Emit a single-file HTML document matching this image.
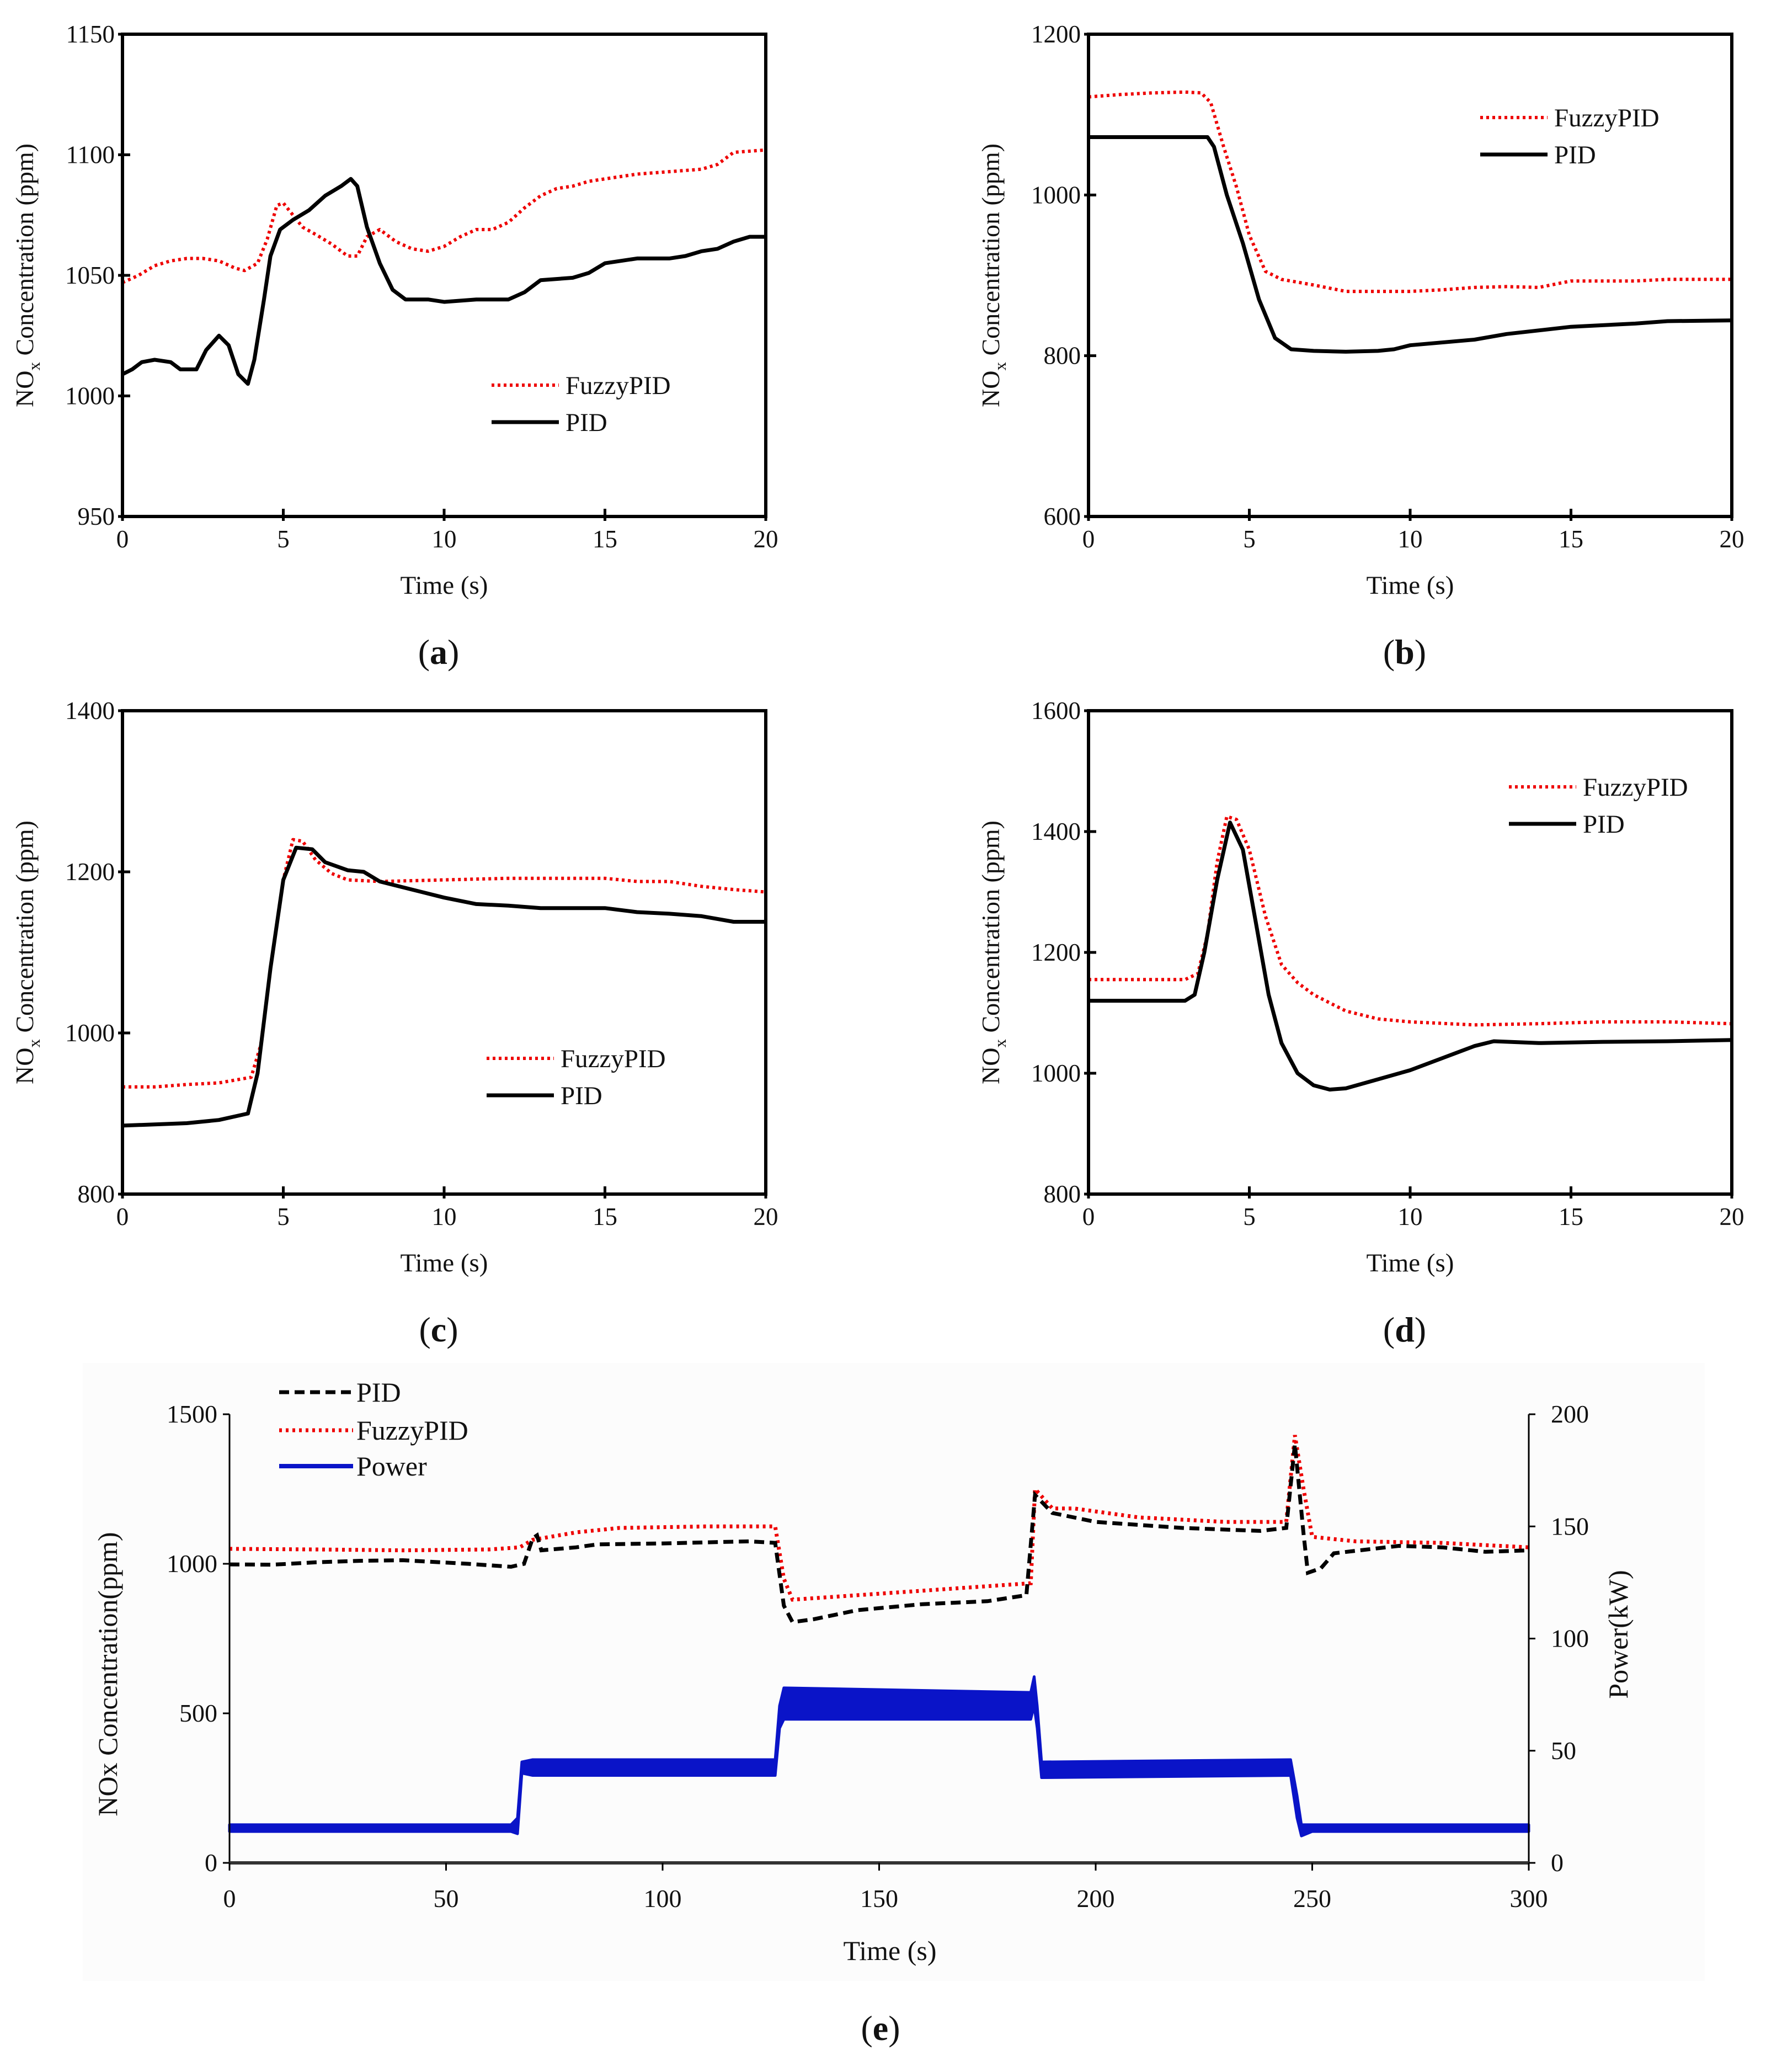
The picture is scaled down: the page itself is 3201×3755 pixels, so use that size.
<!DOCTYPE html>
<html><head><meta charset="utf-8"><style>
html,body{margin:0;padding:0;background:#fff}
svg{display:block}
text{font-family:"Liberation Serif",serif;fill:#111}
</style></head><body>
<svg id="fig" width="3201" height="3755" viewBox="0 0 3201 3755" xmlns="http://www.w3.org/2000/svg">
<rect x="150" y="2470" width="2940" height="1120" fill="#fcfcfc"/>
</svg>
<script>
// ---- Panel (a) data ----
const aTime=[0,0.5,1,1.5,2,2.5,3,3.5,3.8,4.2,4.5,4.8,5,5.3,5.6,6,6.5,7,7.3,7.6,8,8.5,9,9.5,10,10.5,11,11.5,12,12.5,13,13.5,14,14.5,15,16,17,18,18.5,19,20];
const aFuzzy=[1047,1050,1054,1056,1057,1057,1056,1053,1052,1055,1065,1079,1080,1075,1070,1067,1063,1058,1058,1066,1069,1064,1061,1060,1062,1066,1069,1069,1072,1078,1083,1086,1087,1089,1090,1092,1093,1094,1096,1101,1102];
const aPidTime=[0,0.3,0.6,1,1.5,1.8,2.3,2.6,3,3.3,3.6,3.9,4.1,4.4,4.6,4.9,5.3,5.8,6.3,6.8,7.1,7.3,7.6,8,8.4,8.8,9.5,10,11,12,12.5,13,14,14.5,15,16,17,17.5,18,18.5,19,19.5,20];
const aPid=[1009,1011,1014,1015,1014,1011,1011,1019,1025,1021,1009,1005,1015,1040,1058,1069,1073,1077,1083,1087,1090,1087,1070,1055,1044,1040,1040,1039,1040,1040,1043,1048,1049,1051,1055,1057,1057,1058,1060,1061,1064,1066,1066];
const aYTicks=[950,1000,1050,1100,1150];
// ---- Panel (b) data ----
const bFuzzyTime=[0,1,2,3,3.5,3.8,4.2,4.6,5,5.5,6,7,8,9,10,11,12,13,14,15,17,18,20];
const bFuzzy=[1122,1125,1127,1128,1127,1115,1060,1010,950,905,895,888,880,880,880,882,885,886,885,893,893,895,895];
const bPidTime=[0,3.7,3.9,4.3,4.8,5.3,5.8,6.3,7,8,9,9.5,10,12,13,15,17,18,20];
const bPid=[1072,1072,1060,1000,940,870,822,808,806,805,806,808,813,820,827,836,840,843,844];
const bYTicks=[600,800,1000,1200];
// ---- Panel (c) data ----
const cFuzzyTime=[0,1,2,3,4,4.3,4.6,5,5.3,5.6,6,6.5,7,8,10,12,15,16,17,18,19,20];
const cFuzzy=[933,933,936,938,945,985,1080,1190,1240,1238,1215,1198,1190,1188,1190,1192,1192,1188,1188,1182,1178,1175];
const cPidTime=[0,2,3,3.9,4.2,4.6,5,5.4,5.9,6.3,7,7.5,8,9,10,11,12,13,15,16,17,18,19,20];
const cPid=[885,888,892,900,950,1080,1190,1230,1228,1212,1202,1200,1188,1178,1168,1160,1158,1155,1155,1150,1148,1145,1138,1138];
const cYTicks=[800,1000,1200,1400];
// ---- Panel (d) data ----
const dFuzzyTime=[0,3,3.4,3.7,4,4.3,4.6,5,5.5,6,6.5,7,8,9,10,12,14,16,18,20];
const dFuzzy=[1155,1155,1165,1230,1350,1425,1420,1370,1260,1180,1150,1130,1103,1090,1085,1080,1082,1085,1085,1082];
const dPidTime=[0,3,3.3,3.6,4,4.4,4.8,5.2,5.6,6,6.5,7,7.5,8,9,10,11,12,12.6,14,16,18,20];
const dPid=[1120,1120,1130,1200,1320,1415,1370,1250,1130,1050,1000,980,973,975,990,1005,1025,1045,1053,1050,1052,1053,1055];
const dYTicks=[800,1000,1200,1400,1600];
const xTicks=[0,5,10,15,20];
// ---- Panel (e) data ----
const ePidTime=[0,10,20,30,40,55,60,65,68,70,71,72,80,85,100,120,126,128,130,135,145,160,175,184,186,190,200,220,238,244,246,248,249,252,255,270,280,290,300];
const ePid=[998,997,1005,1010,1012,1000,995,990,1000,1085,1095,1045,1055,1065,1068,1075,1070,860,805,815,845,865,875,895,1230,1170,1140,1120,1110,1120,1400,1100,970,985,1035,1060,1055,1040,1045];
const eFuzzyTime=[0,20,40,60,67,70,80,90,110,126,128,130,140,160,180,185,186,190,195,210,230,244,246,248,250,260,280,300];
const eFuzzy=[1050,1048,1045,1048,1055,1080,1105,1120,1125,1125,950,880,890,910,930,935,1250,1185,1185,1155,1140,1140,1430,1250,1090,1075,1070,1055];
const ePowerTime=[0,65,66.5,67.5,70,126,127,128,185,185.8,186.5,187.5,245,246.5,247.5,250,300];
const ePowerLow=[14,14,13,40,39,39,60,64,64,70,60,38,39,20,12,14,14];
const ePowerHigh=[17,17,20,45,46,46,70,78,76,83,70,45,46,30,17,17,17];
const eXTicks=[0,50,100,150,200,250,300];
const eYTicks=[0,500,1000,1500];
const ePowerTicks=[0,50,100,150,200];

const NS="http://www.w3.org/2000/svg";
const svg=document.getElementById('fig');
function mk(tag,attrs,parent){const e=document.createElementNS(NS,tag);for(const k in attrs)e.setAttribute(k,attrs[k]);(parent||svg).appendChild(e);return e;}
function txt(s,attrs,parent){const e=mk('text',attrs,parent);e.textContent=s;return e;}
function lin(d0,d1,r0,r1){return v=>r0+(v-d0)/(d1-d0)*(r1-r0);}
function pathOf(xs,ys,sx,sy){return xs.map((t,i)=>(i?'L':'M')+sx(t).toFixed(1)+','+sy(ys[i]).toFixed(1)).join('');}

function panel(id,x0,x1,y0,y1,yT,series,leg,label){
  const g=mk('g',{});
  
  
  const sx=lin(0,20,x0,x1), sy=lin(yT[0],yT[yT.length-1],y1,y0);
  series.forEach(s=>{
    const p=mk('path',{d:pathOf(s.t,s.v,sx,sy),fill:'none',stroke:s.c,'stroke-width':s.red?6:7,'stroke-dasharray':s.red?'5 6':'none','stroke-linejoin':'round'},g);
    
    
  });
  const fr=mk('rect',{x:x0,y:y0,width:x1-x0,height:y1-y0,fill:'none',stroke:'#000','stroke-width':6},g);
  
  
  yT.forEach(v=>{
    const y=sy(v);
    mk('line',{x1:x0-8,x2:x0+14,y1:y,y2:y,stroke:'#000','stroke-width':5},g);
    const t=txt(v,{x:x0-14,y:y+15,'font-size':45,'text-anchor':'end'},g);
    
    
  });
  xTicks.forEach(v=>{
    const x=sx(v);
    mk('line',{x1:x,x2:x,y1:y1+8,y2:y1-14,stroke:'#000','stroke-width':5},g);
    const t=txt(v,{x:x,y:y1+56,'font-size':45,'text-anchor':'middle'},g);
    
    
  });
  const xt=txt('Time (s)',{x:(x0+x1)/2,y:y1+140,'font-size':47,'text-anchor':'middle'},g);
  
  
  const cy=(y0+y1)/2, tx=x0-162;
  const yt=mk('text',{x:0,y:0,'font-size':46,'text-anchor':'middle',transform:`translate(${tx},${cy}) rotate(-90)`},g);
  yt.innerHTML='NO<tspan font-size="31" dy="12">x</tspan><tspan dy="-12"> Concentration (ppm)</tspan>';
  
  
  const lf=mk('line',{x1:leg[0],x2:leg[0]+122,y1:leg[1],y2:leg[1],stroke:'#e00','stroke-width':6,'stroke-dasharray':'5 6'},g);
  
  
  const lft=txt('FuzzyPID',{x:leg[0]+134,y:leg[1]+16,'font-size':47},g);
  
  
  const lp=mk('line',{x1:leg[0],x2:leg[0]+122,y1:leg[1]+67,y2:leg[1]+67,stroke:'#000','stroke-width':7},g);
  
  
  const lpt=txt('PID',{x:leg[0]+134,y:leg[1]+83,'font-size':47},g);
  
  
  const pl=mk('text',{x:(x0+x1)/2-10,y:y1+267,'font-size':64,'text-anchor':'middle'},g);
  pl.innerHTML='(<tspan font-weight="bold">'+label+'</tspan>)';
  
  
}
panel('a',222,1388,62,936,aYTicks,[{t:aTime,v:aFuzzy,c:'#e00',red:1,n:'fuzzypid'},{t:aPidTime,v:aPid,c:'#000',n:'pid'}],[891,698],'a');
panel('b',1973,3139,62,936,bYTicks,[{t:bFuzzyTime,v:bFuzzy,c:'#e00',red:1,n:'fuzzypid'},{t:bPidTime,v:bPid,c:'#000',n:'pid'}],[2683,213],'b');
panel('c',222,1388,1288,2164,cYTicks,[{t:cFuzzyTime,v:cFuzzy,c:'#e00',red:1,n:'fuzzypid'},{t:cPidTime,v:cPid,c:'#000',n:'pid'}],[882,1918],'c');
panel('d',1973,3139,1288,2164,dYTicks,[{t:dFuzzyTime,v:dFuzzy,c:'#e00',red:1,n:'fuzzypid'},{t:dPidTime,v:dPid,c:'#000',n:'pid'}],[2735,1426],'d');

(function(){
  const g=mk('g',{});
  
  
  const x0=416,x1=2771,y0=2563,y1=3376;
  const sx=lin(0,300,x0,x1), sy=lin(0,1500,y1,y0), sp=lin(0,200,y1,y0);
  const band='M'+ePowerTime.map((t,i)=>sx(t).toFixed(1)+','+sp(ePowerHigh[i]).toFixed(1)).join('L')+'L'+ePowerTime.slice().reverse().map((t,j)=>{const i=ePowerTime.length-1-j;return sx(t).toFixed(1)+','+sp(ePowerLow[i]).toFixed(1);}).join('L')+'Z';
  const pb=mk('path',{d:band,fill:'#0a14c8',stroke:'#0a14c8','stroke-width':5,'stroke-linejoin':'round'},g);
  
  
  const pf=mk('path',{d:pathOf(eFuzzyTime,eFuzzy,sx,sy),fill:'none',stroke:'#e00','stroke-width':7,'stroke-dasharray':'5 7'},g);
  
  
  const pp=mk('path',{d:pathOf(ePidTime,ePid,sx,sy),fill:'none',stroke:'#000','stroke-width':7,'stroke-dasharray':'18 10'},g);
  
  
  mk('line',{x1:x0,x2:x0,y1:y0,y2:y1,stroke:'#000','stroke-width':3},g);
  mk('line',{x1:x1,x2:x1,y1:y0,y2:y1,stroke:'#000','stroke-width':3},g);
  mk('line',{x1:x0,x2:x1,y1:y1,y2:y1,stroke:'#333','stroke-width':6},g);
  eYTicks.forEach(v=>{const y=sy(v);mk('line',{x1:x0-12,x2:x0,y1:y,y2:y,stroke:'#000','stroke-width':3},g);
    const t=txt(v,{x:x0-22,y:y+15,'font-size':46,'text-anchor':'end'},g);
    
    });
  ePowerTicks.forEach(v=>{const y=sp(v);mk('line',{x1:x1,x2:x1+12,y1:y,y2:y,stroke:'#000','stroke-width':3},g);
    const t=txt(v,{x:x1+40,y:y+15,'font-size':46},g);
    
    });
  eXTicks.forEach(v=>{const x=sx(v);mk('line',{x1:x,x2:x,y1:y1,y2:y1+14,stroke:'#000','stroke-width':3},g);
    const t=txt(v,{x:x,y:y1+80,'font-size':46,'text-anchor':'middle'},g);
    
    });
  const xt=txt('Time (s)',{x:1613,y:3552,'font-size':50,'text-anchor':'middle'},g);
  
  
  const yl=txt('NOx Concentration(ppm)',{x:0,y:0,'font-size':50,'text-anchor':'middle',transform:'translate(212,3034) rotate(-90)'},g);
  
  
  const yr=txt('Power(kW)',{x:0,y:0,'font-size':50,'text-anchor':'middle',transform:'translate(2950,2962) rotate(-90)'},g);
  
  
  const L=[['PID','#000','18 10',7,2523],['FuzzyPID','#e00','5 7',7,2592],['Power','#0a14c8','none',8,2657]];
  L.forEach(l=>{
    const s=mk('line',{x1:506,x2:640,y1:l[4],y2:l[4],stroke:l[1],'stroke-width':l[3],'stroke-dasharray':l[2]},g);
    
    
    const t=txt(l[0],{x:646,y:l[4]+17,'font-size':50},g);
    
    
  });
  const pl=mk('text',{x:1596,y:3697,'font-size':64,'text-anchor':'middle'},g);
  pl.innerHTML='(<tspan font-weight="bold">e</tspan>)';
  
  
})();
</script>
</body></html>
